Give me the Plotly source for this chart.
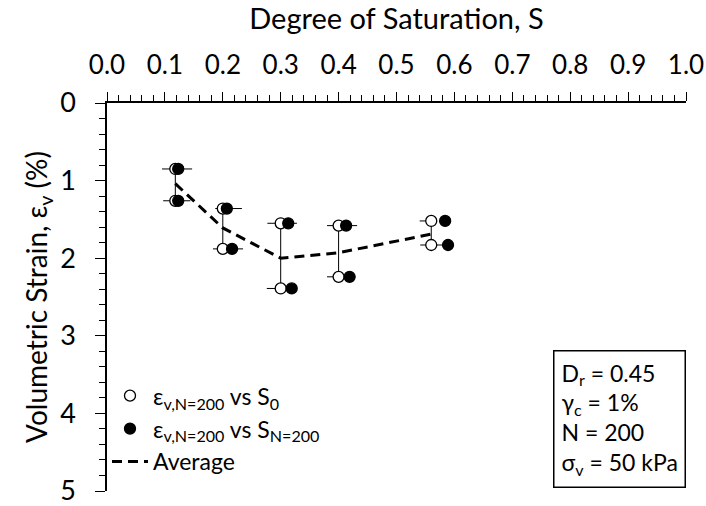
import plotly.graph_objects as go

# Each S0 level was tested twice: upper / lower strain of each pair
s0 = [0.118, 0.118, 0.200, 0.200, 0.300, 0.300, 0.400, 0.400, 0.560, 0.560]
s_n200 = [0.123, 0.123, 0.207, 0.216, 0.313, 0.319, 0.413, 0.419, 0.584, 0.589]
ev_n200 = [0.85, 1.26, 1.36, 1.88, 1.55, 2.39, 1.58, 2.24, 1.52, 1.83]

# Horizontal spread of saturation around S0
s_err_minus = [0.023, 0.021, 0.013, 0.017, 0.023, 0.024, 0.020, 0.020, 0.020, 0.019]
s_err_plus = [0.029, 0.026, 0.033, 0.035, 0.028, 0.028, 0.032, 0.029, 0.0, 0.019]

# Average strain per S0 level
s_avg = [0.118, 0.200, 0.300, 0.400, 0.560]
ev_avg = [1.04, 1.61, 2.00, 1.93, 1.69]

x_ticks = [i / 10 for i in range(11)]
y_ticks = [0, 1, 2, 3, 4, 5]

FONT = "Lato"

fig = go.Figure()

# Vertical range line between the two tests at each S0
rx, ry = [], []
for i in range(0, len(s0), 2):
    rx += [s0[i], s0[i + 1], None]
    ry += [ev_n200[i], ev_n200[i + 1], None]
fig.add_trace(go.Scatter(x=rx, y=ry, mode="lines", line=dict(color="black", width=1),
                         showlegend=False, hoverinfo="skip"))

fig.add_trace(go.Scatter(
    x=s0, y=ev_n200, mode="markers",
    name="ε<sub>v,N=200</sub> vs S<sub>0</sub>",
    marker=dict(symbol="circle", size=11, color="white", line=dict(color="black", width=1.3)),
    error_x=dict(type="data", symmetric=False, array=s_err_plus, arrayminus=s_err_minus,
                 color="black", thickness=1, width=0),
    legendrank=1,
))
fig.add_trace(go.Scatter(
    x=s_n200, y=ev_n200, mode="markers",
    name="ε<sub>v,N=200</sub> vs S<sub>N=200</sub>",
    marker=dict(symbol="circle", size=11, color="black", line=dict(color="black", width=1.3)),
    legendrank=2,
))
fig.add_trace(go.Scatter(
    x=s_avg, y=ev_avg, mode="lines", name="Average",
    line=dict(color="black", width=3, dash="10px,6px"),
    legendrank=3,
))

fig.add_annotation(
    xref="paper", yref="paper", x=1.0, y=0.008, xanchor="right", yanchor="bottom",
    text="D<sub>r</sub> = 0.45<br>γ<sub>c</sub> = 1%<br>N = 200<br>σ<sub>v</sub> = 50 kPa",
    align="left", showarrow=False,
    font=dict(family=FONT, size=23, color="black"),
    bordercolor="black", borderwidth=1.5, borderpad=7, bgcolor="white",
)

fig.update_layout(
    width=706, height=506,
    margin=dict(l=107, r=20, t=103, b=15, autoexpand=False),
    paper_bgcolor="white", plot_bgcolor="white",
    font=dict(family=FONT, size=24, color="black"),
    showlegend=True,
    legend=dict(x=0.0, y=0.02, xanchor="left", yanchor="bottom",
                font=dict(family=FONT, size=23, color="black"),
                bgcolor="rgba(0,0,0,0)", borderwidth=0, tracegroupgap=0, itemwidth=36),
    xaxis=dict(
        side="top", range=[0, 1], tickvals=x_ticks, ticktext=[f"{v:.1f}" for v in x_ticks],
        showgrid=False, zeroline=False, showline=True, linecolor="black", linewidth=1.5,
        ticks="outside", ticklen=9, tickwidth=1.3, tickcolor="black", ticklabelstandoff=8,
        ticklabeloverflow="allow", automargin=False,
        minor=dict(dtick=0.02, ticks="outside", ticklen=6, tickwidth=1.2, tickcolor="black", showgrid=False),
        tickfont=dict(family=FONT, size=26),
        title=dict(text="Degree of Saturation, S", font=dict(family=FONT, size=29), standoff=10),
    ),
    yaxis=dict(
        range=[5, 0], tickvals=y_ticks,
        showgrid=False, zeroline=False, showline=True, linecolor="black", linewidth=1.5,
        ticks="outside", ticklen=10, tickwidth=1.3, tickcolor="black", ticklabelstandoff=14,
        ticklabeloverflow="allow", automargin=False,
        minor=dict(dtick=0.2, ticks="outside", ticklen=6, tickwidth=1.2, tickcolor="black", showgrid=False),
        tickfont=dict(family=FONT, size=27),
        title=dict(text="Volumetric Strain, ε<sub>v</sub> (%)", font=dict(family=FONT, size=28), standoff=4),
    ),
)

fig.write_html("out.html")
